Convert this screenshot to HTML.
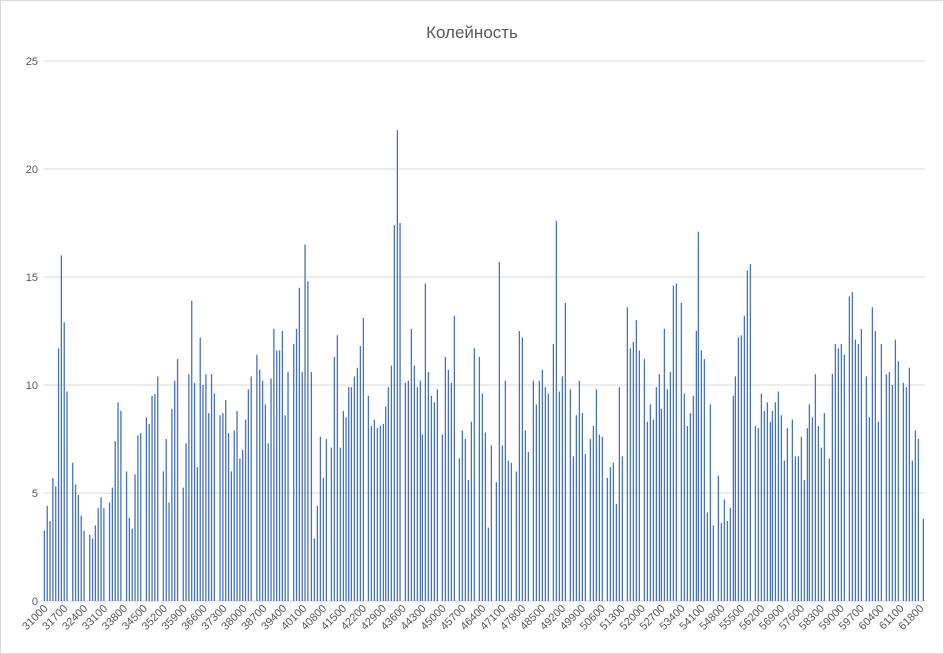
<!DOCTYPE html>
<html><head><meta charset="utf-8"><style>
html,body{margin:0;padding:0;background:#fff;}
svg{display:block;font-family:"Liberation Sans","DejaVu Sans",sans-serif;}
</style></head><body>
<svg id="c" width="944" height="654" viewBox="0 0 944 654" xmlns="http://www.w3.org/2000/svg">
<rect x="0.5" y="0.5" width="943" height="653" fill="#fff" stroke="#d9d9d9"/>
<text x="472" y="38" text-anchor="middle" font-size="17" fill="#595959">Колейность</text>
<g id="grid"></g><g id="bars"></g><g id="lbl"></g>
</svg>
<script>
var NS="http://www.w3.org/2000/svg";
function el(t,a,p,txt){var e=document.createElementNS(NS,t);for(var k in a)e.setAttribute(k,a[k]);if(txt!==undefined)e.textContent=txt;document.getElementById(p).appendChild(e);}
var y0=601, unit=21.6, xl=44, xr=925;
for(var v=0;v<=25;v+=5){var y=y0-v*unit;
 if(v>0) el("line",{x1:xl,x2:xr,y1:y,y2:y,stroke:"#d9d9d9","stroke-width":1},"grid");
 el("text",{x:38,y:y+4,"text-anchor":"end","font-size":11,fill:"#595959"},"lbl",v);}
el("line",{x1:xl,x2:xr,y1:y0,y2:y0,stroke:"#d9d9d9","stroke-width":1},"grid");
var z1=[[133,3.26],[141.5,4.4],[150,3.7],[158.5,5.7],[167,5.3],[175.5,11.7],[184,16],[192.5,12.9],[201,9.7],[218,6.4],[226.5,5.4],[235,4.9],[243.5,3.95],[252,3.25],[269,3.07],[277.5,2.9],[286,3.5],[294.5,4.3],[303,4.8],[311.5,4.3],[328.5,4.55],[337,5.25],[345.5,7.4],[354,9.2],[362.5,8.8],[379.5,6.0],[388,3.86],[396.5,3.35],[405,5.86],[413.5,7.67],[422,7.77],[439,8.5],[447.5,8.2],[456,9.5],[464.5,9.58],[473,10.4],[490,6.0],[498.5,7.5],[507,4.56],[515.5,8.9],[524,10.2],[532.5,11.2],[549.5,5.25],[558,7.3],[566.5,10.5],[575,13.9],[583.5,10.1],[592,6.2],[600.5,12.2],[609,10],[617.5,10.5],[626,8.7],[634.5,10.5],[643,9.6],[660,8.6],[668.5,8.7],[677,9.3],[685.5,7.77],[694,6.0],[702.5,7.9],[711,8.8],[719.5,6.6],[728,7.0],[736.5,8.4],[745,9.8],[753.5,10.4],[770.5,11.4],[779,10.7],[787.5,10.2],[796,9.1],[804.5,7.3],[813,10.3],[821.5,12.6],[830,11.6],[838.5,11.6],[847,12.5],[855.5,8.6],[864,10.6],[881,11.9],[889.5,12.6],[898,14.5],[906.5,10.6],[915,16.5],[923.5,14.8]];
var z2=[[4,10.6],[13,2.9],[22,4.4],[31,7.6],[40,5.7],[49,7.5],[64,7.1],[73,11.3],[82,12.3],[91,7.1],[100,8.8],[108,8.5],[116,9.9],[124,9.9],[133,10.4],[142,10.8],[151,11.8],[160,13.1],[175,9.5],[184,8.1],[193,8.4],[202,8.0],[211,8.1],[220,8.2],[227,9.0],[235,9.9],[244,10.9],[253,17.4],[262,21.8],[270,17.5],[286,10.1],[295,10.2],[304,12.6],[313,10.9],[322,9.9],[331,10.2],[337,7.7],[346,14.7],[355,10.6],[364,9.5],[373,9.2],[382,9.8],[397,7.7],[406,11.3],[415,10.7],[424,10.1],[433,13.2],[448,6.6],[457,7.9],[466,7.5],[475,5.6],[484,8.3],[493,11.7],[508,11.3],[517,9.6],[526,7.8],[535,3.4],[544,7.2],[559,5.5],[568,15.7],[577,7.2],[586,10.2],[595,6.5],[604,6.4],[619,6.0],[628,12.5],[637,12.2],[646,7.9],[655,6.9],[670,10.2],[679,9.1],[688,10.2],[697,10.7],[706,9.9],[715,9.6],[730,11.9],[739,17.6],[748,9.7],[757,10.4],[766,13.8],[781,9.8],[790,6.7],[799,8.6],[808,10.2],[817,8.7],[826,6.8],[841,7.5],[850,8.1],[859,9.8],[868,7.7],[877,7.6],[892,5.7],[901,6.2],[910,6.4],[919,4.5],[928,9.9],[937,6.7]];
var z3=[[22,13.6],[31,11.7],[40,12.0],[49,13.0],[58,11.6],[73,11.2],[82,8.3],[91,9.1],[100,8.4],[109,9.9],[118,10.5],[124,8.9],[133,12.6],[142,9.8],[151,10.6],[160,14.6],[169,14.7],[184,13.8],[193,9.6],[202,8.1],[211,8.7],[220,9.5],[229,12.5],[235,17.1],[244,11.6],[253,11.2],[262,4.1],[271,9.1],[280,3.5],[295,5.8],[304,3.6],[313,4.7],[322,3.7],[331,4.3],[340,9.5],[346,10.4],[355,12.2],[364,12.3],[373,13.2],[382,15.3],[391,15.6],[406,8.1],[415,8.0],[424,9.6],[433,8.8],[442,9.2],[451,8.3],[457,8.8],[466,9.2],[475,9.7],[484,8.6],[493,6.5],[502,8.0],[517,8.4],[526,6.7],[535,6.7],[544,7.6],[553,5.6],[562,8.0],[568,9.1],[577,8.5],[586,10.5],[595,8.1],[604,7.1],[613,8.7],[628,6.6],[637,10.5],[646,11.9],[655,11.7],[664,11.9],[673,11.4],[688,14.1],[697,14.3],[706,12.1],[715,11.9],[724,12.6],[739,10.4],[748,8.5],[757,13.6],[766,12.5],[775,8.3],[784,11.9],[799,10.5],[808,10.6],[817,10.0],[826,12.1],[835,11.1],[850,10.1],[859,9.9],[868,10.8],[877,6.5],[886,7.9],[895,7.5],[910,3.8]];
function draw(arr,off){arr.forEach(function(d){var x=off+d[0]/3,h=d[1]*unit;
 el("rect",{x:(x-0.6).toFixed(2),y:(y0-h).toFixed(2),width:1.3,height:h.toFixed(2),fill:"#4472C4"},"bars");});}
draw(z1,0);draw(z2,310);draw(z3,620);
var step=(923.3-44.3)/309;
for(var i=0;i<=44;i++){var x=44.3+7*i*step,t=31000+700*i;
 el("text",{x:x+4,y:609,"text-anchor":"end","font-size":11,fill:"#595959",transform:"rotate(-45 "+(x+4)+" 609)"},"lbl",t);}
</script>
</body></html>
